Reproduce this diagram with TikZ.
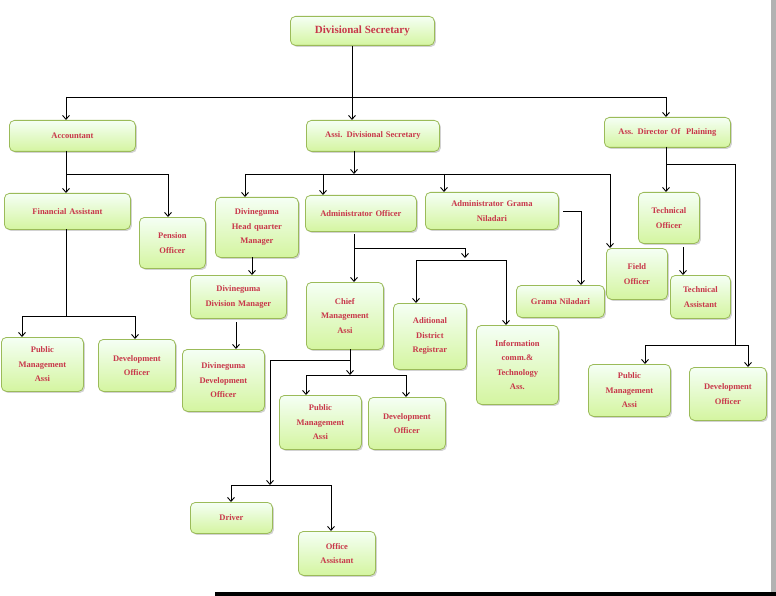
\documentclass[tikz,border=0pt]{standalone}
\usepackage{fontspec}
\setmainfont{Liberation Serif}
\usetikzlibrary{shadows,arrows.meta}
\definecolor{bd}{HTML}{9BBB59}
\definecolor{tx}{HTML}{C8374A}
\tikzset{
 box/.style={draw=bd, line width=0.8pt, rounded corners=5pt, top color=green!4!white, bottom color={rgb,255:red,212;green,245;blue,160},
   drop shadow={shadow xshift=1.5pt,shadow yshift=-1.5pt,fill=black!35}, inner sep=1pt, align=center, text=tx,
   font=\fontsize{8.5}{14.5}\selectfont\bfseries, anchor=north west},
 ln/.style={line width=0.9pt, black},
 ar/.style={ln, -{Straight Barb[length=4pt,width=7pt]}},
}
\newcommand\bx[6]{\node[box, minimum width={(#4-#2)*1pt}, minimum height={(#5-#3)*1pt}, text width={(#4-#2-4)*1pt}] (#1) at (#2,#3) {#6};}
\begin{document}
\begin{tikzpicture}[x=1pt,y=-1pt]
\useasboundingbox (0,0) rectangle (776,596);
\fill[white] (0,0) rectangle (776,596);
\fill[black!30] (771,0) rectangle (776,596);
\fill[black] (215,592) rectangle (776,596);
\bx{ds}{290}{16}{434}{45}{\fontsize{11}{13}\selectfont Divisional Secretary}
\bx{acc}{9}{120}{135}{151}{Accountant\\[4pt]}
\bx{ads}{306}{120}{439}{151}{Assi. Divisional Secretary\\[4pt]}
\bx{adp}{604}{117}{730}{147}{Ass. Director Of\ \ Plaining\\[4pt]}
\bx{fa}{4}{193}{130}{229}{Financial Assistant\\[8pt]}
\bx{po}{139}{217}{205}{268}{Pension\\Officer}
\bx{dhq}{215}{197}{298}{257}{Divineguma\\Head quarter\\Manager}
\bx{ao}{305}{195}{416}{231}{Administrator Officer\\[8pt]}
\bx{agn}{425}{192}{558}{229}{Administrator Grama\\Niladari}
\bx{fo}{606}{248}{667}{299}{Field\\Officer}
\bx{to}{638}{192}{699}{243}{Technical\\Officer\\[4pt]}
\bx{ta}{670}{275}{730}{318}{Technical\\Assistant}
\bx{gn}{516}{285}{604}{317}{Grama Niladari\\[3pt]}
\bx{ddm}{190}{275}{286}{318}{Divineguma\\Division Manager}
\bx{cma}{306}{282}{383}{349}{Chief\\Management\\Assi}
\bx{adr}{393}{303}{466}{369}{Aditional\\District\\Registrar}
\bx{ict}{476}{325}{558}{404}{Information\\comm.\&\\Technology\\Ass.}
\bx{ddo}{182}{349}{264}{411}{Divineguma\\Development\\Officer}
\bx{pma1}{1}{337}{83}{391}{Public\\Management\\Assi}
\bx{dev1}{98}{339}{175}{391}{Development\\Officer\\[4pt]}
\bx{pma2}{279}{395}{361}{449}{Public\\Management\\Assi}
\bx{dev2}{368}{397}{445}{449}{Development\\Officer\\[4pt]}
\bx{pma3}{588}{364}{670}{416}{Public\\Management\\Assi}
\bx{dev3}{689}{367}{766}{420}{Development\\Officer\\[4pt]}
\bx{drv}{190}{502}{272}{533}{Driver\\[6pt]}
\bx{oa}{298}{531}{375}{575}{Office\\Assistant}
% top level
\coordinate (j0) at (352,97);
\draw[ln] (ds.south -| j0) -- (j0);
\draw[ln] (66,97) -- (666,97);
\draw[ar] (66,97) -- (66,97 |- acc.north);
\draw[ar] (352,97) -- (352,97 |- ads.north);
\draw[ar] (666,97) -- (666,97 |- adp.north);
% accountant
\coordinate (j1) at (66,174);
\draw[ar] (66,151) -- (66,174 |- fa.north);
\draw[ar] (j1) -- (168,174) -- (168,174 |- po.north);
\coordinate (j2) at (66,316);
\draw[ln] (66,229) -- (j2);
\draw[ln] (22,316) -- (135,316);
\draw[ar] (22,316) -- (22,316 |- pma1.north);
\draw[ar] (135,316) -- (135,316 |- dev1.north);
% ADS
\coordinate (j3) at (354,174);
\draw[ar] (354,151) -- (j3);
\draw[ln] (245,174) -- (610,174);
\draw[ar] (245,174) -- (245,174 |- dhq.north);
\draw[ar] (323,174) -- (323,174 |- ao.north);
\draw[ar] (444,174) -- (444,174 |- agn.north);
\draw[ar] (610,174) -- (610,174 |- fo.north);
\draw[ar] (252,257) -- (252,257 |- ddm.north);
\draw[ar] (236,322) -- (236,322 |- ddo.north);
% admin officer
\coordinate (j4) at (465,258);
\draw[ar] (354,234) -- (354,234 |- cma.north);
\draw[ln] (354,248) -- (465,248);
\draw[ar] (465,248) -- (j4);
\draw[ln] (416,260) -- (506,260);
\draw[ar] (416,260) -- (416,260 |- adr.north);
\draw[ar] (506,260) -- (506,260 |- ict.north);
% AGN
\draw[ar] (563,211) -- (581,211) -- (581,211 |- gn.north);
% ADP
\draw[ar] (666,147) -- (666,147 |- to.north);
\draw[ln] (666,164) -- (735,164) -- (735,345);
\draw[ln] (645,345) -- (748,345);
\draw[ar] (645,345) -- (645,345 |- pma3.north);
\draw[ar] (748,345) -- (748,345 |- dev3.north);
\draw[ar] (683,247) -- (683,247 |- ta.north);
% CMA
\coordinate (j5) at (350,375);
\draw[ar] (350,349) -- (j5);
\draw[ln] (306,375) -- (406,375);
\draw[ar] (306,375) -- (306,375 |- pma2.north);
\draw[ar] (406,375) -- (406,375 |- dev2.north);
\coordinate (j6) at (270,485);
\draw[ln] (350,360) -- (270,360);
\draw[ar] (270,360) -- (j6);
\draw[ln] (231,485) -- (331,485);
\draw[ar] (231,485) -- (231,485 |- drv.north);
\draw[ar] (331,485) -- (331,485 |- oa.north);
\end{tikzpicture}
\end{document}
